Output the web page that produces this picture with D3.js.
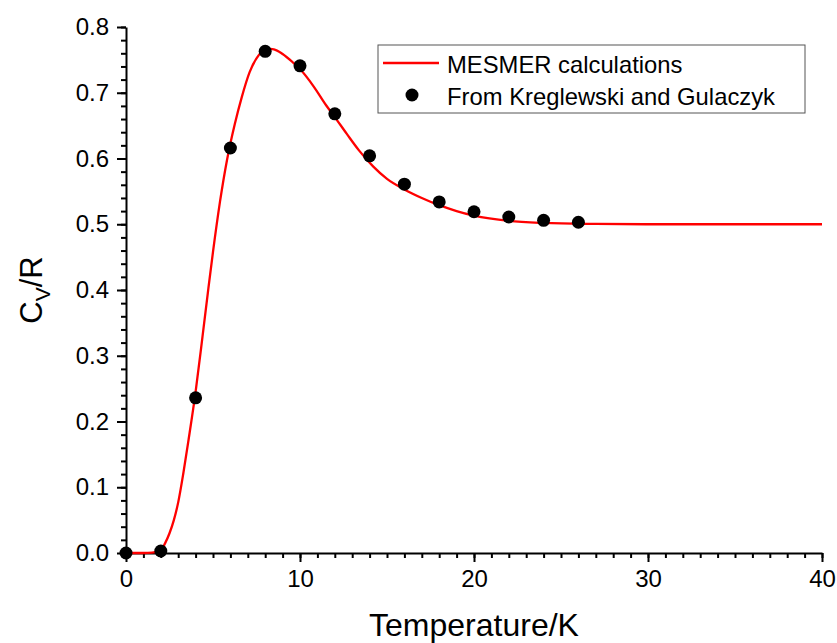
<!DOCTYPE html>
<html>
<head>
<meta charset="utf-8">
<script src="https://cdn.jsdelivr.net/npm/d3@7"></script>
<style>
  body { margin: 0; background: #fff; }
  svg text { font-family: "Liberation Sans", Arial, sans-serif; fill: #000; }
</style>
</head>
<body>
<div id="chart"></div>
<script>
// MESMER calculation curve
var curveT  = [0, 1, 1.5, 2, 2.25, 2.5, 2.75, 3, 3.3, 3.6, 4, 4.4, 4.7, 5, 5.4, 5.8, 6.25, 6.65, 7.1, 7.6, 8.1, 8.5, 9, 9.6, 10, 10.8, 11.5, 12, 12.7, 13.4, 14.2, 15, 16, 17, 18, 19, 20, 22, 24, 27, 30, 40];
var curveCv = [0, 0, 0.0005, 0.004, 0.015, 0.03, 0.05, 0.077, 0.122, 0.173, 0.245, 0.33, 0.395, 0.458, 0.534, 0.597, 0.652, 0.693, 0.731, 0.756, 0.767, 0.766, 0.759, 0.746, 0.736, 0.709, 0.681, 0.663, 0.637, 0.612, 0.588, 0.569, 0.553, 0.54, 0.529, 0.52, 0.513, 0.505, 0.502, 0.5005, 0.5, 0.5];

// Kreglewski and Gulaczyk points
var expT  = [0, 2, 4, 6, 8, 10, 12, 14, 16, 18, 20, 22, 24, 26];
var expCv = [0, 0.003, 0.236, 0.616, 0.763, 0.741, 0.668, 0.604, 0.561, 0.534, 0.519, 0.511, 0.506, 0.503];

var xTicks = [0, 10, 20, 30, 40];
var yTicks = [0, 0.1, 0.2, 0.3, 0.4, 0.5, 0.6, 0.7, 0.8];

const width = 837, height = 643;
const mLeft = 126, mRight = 822, mTop = 27, mBottom = 553;

var svg = d3.select("#chart").append("svg")
    .attr("width", width)
    .attr("height", height);

var x = d3.scaleLinear().domain([0, 40]).range([mLeft, mRight]);
var y = d3.scaleLinear().domain([0, 0.8]).range([mBottom, mTop]);

// minor ticks
svg.append("g")
    .attr("transform", "translate(0," + mBottom + ")")
    .call(d3.axisBottom(x).tickValues(d3.range(0, 41, 1)).tickSize(5).tickFormat(""))
    .call(g => g.select(".domain").remove())
    .selectAll("line").attr("stroke-width", 2);

svg.append("g")
    .attr("transform", "translate(" + mLeft + ",0)")
    .call(d3.axisLeft(y).tickValues(d3.range(0, 41).map(d => d * 0.02)).tickSize(5).tickFormat(""))
    .call(g => g.select(".domain").remove())
    .selectAll("line").attr("stroke-width", 2);

// major ticks + labels
var xAxis = svg.append("g")
    .attr("transform", "translate(0," + mBottom + ")")
    .call(d3.axisBottom(x).tickValues(xTicks).tickSize(9).tickSizeOuter(0).tickPadding(8).tickFormat(d3.format("d")));
xAxis.selectAll("line").attr("stroke-width", 2);
xAxis.select(".domain").attr("stroke-width", 2);
xAxis.selectAll("text").style("font-size", "24px").attr("fill", "#000");

var yAxis = svg.append("g")
    .attr("transform", "translate(" + mLeft + ",0)")
    .call(d3.axisLeft(y).tickValues(yTicks).tickSize(9).tickSizeOuter(0).tickPadding(8).tickFormat(d3.format(".1f")));
yAxis.selectAll("line").attr("stroke-width", 2);
yAxis.select(".domain").attr("stroke-width", 2);
yAxis.selectAll("text").style("font-size", "24px").attr("fill", "#000");

// axis titles
svg.append("text")
    .attr("x", (mLeft + mRight) / 2)
    .attr("y", 636)
    .attr("text-anchor", "middle")
    .style("font-size", "32px")
    .text("Temperature/K");

var yt = svg.append("text")
    .attr("transform", "translate(42," + ((mTop + mBottom) / 2) + ") rotate(-90)")
    .attr("text-anchor", "middle")
    .style("font-size", "31px");
yt.append("tspan").text("C");
yt.append("tspan").attr("dy", 8).style("font-size", "21px").text("V");
yt.append("tspan").attr("dy", -8).text("/R");

// curve
var line = d3.line()
    .x(function(d, i) { return x(curveT[i]); })
    .y(function(d) { return y(d); })
    .curve(d3.curveMonotoneX);

svg.append("path")
    .attr("d", line(curveCv))
    .attr("fill", "none")
    .attr("stroke", "#ff0000")
    .attr("stroke-width", 2.3);

// points
svg.append("g").selectAll("circle")
    .data(expCv)
    .enter()
    .append("circle")
    .attr("cx", function(d, i) { return x(expT[i]); })
    .attr("cy", function(d) { return y(d); })
    .attr("r", 6.5)
    .attr("fill", "#000");

// legend
var lg = svg.append("g");
lg.append("rect")
    .attr("x", 378).attr("y", 45)
    .attr("width", 427).attr("height", 68)
    .attr("fill", "#fff")
    .attr("stroke", "#555")
    .attr("stroke-width", 1);
lg.append("line")
    .attr("x1", 383).attr("x2", 439)
    .attr("y1", 63).attr("y2", 63)
    .attr("stroke", "#ff0000").attr("stroke-width", 2.3);
lg.append("circle")
    .attr("cx", 412).attr("cy", 95).attr("r", 6.5).attr("fill", "#000");
lg.append("text")
    .attr("x", 447).attr("y", 73)
    .style("font-size", "23.8px")
    .text("MESMER calculations");
lg.append("text")
    .attr("x", 447).attr("y", 105)
    .style("font-size", "23.8px")
    .text("From Kreglewski and Gulaczyk");
</script>
</body>
</html>
